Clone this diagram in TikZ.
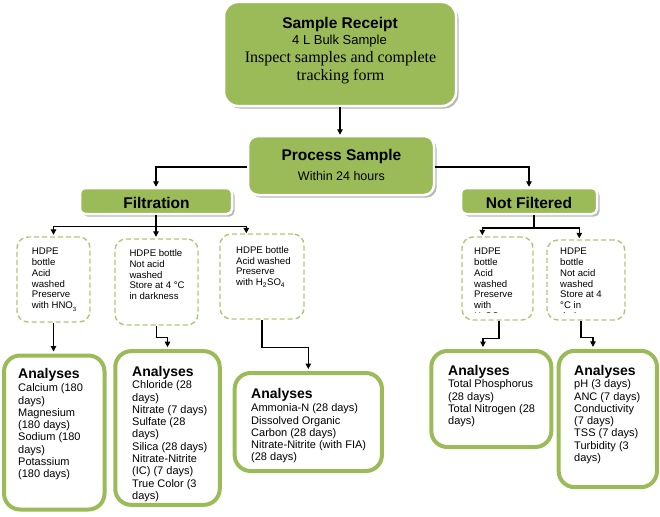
\documentclass[tikz,border=0pt]{standalone}
\usepackage{fontspec}
\setmainfont{Liberation Sans}
\newfontfamily\serifface{Liberation Serif}
\usetikzlibrary{arrows.meta,shadows}
\definecolor{ogreen}{HTML}{9BBB59}
\definecolor{dgreen}{HTML}{ADC777}
\begin{document}
\begin{tikzpicture}[x=1pt,y=-1pt,
  gbox/.style={draw=white, line width=2.5pt, fill=ogreen, inner sep=0pt,
    drop shadow={shadow xshift=2.5pt, shadow yshift=-2.5pt, fill=black!40, opacity=0.7}},
  hbox/.style={draw=dgreen, dash pattern=on 5pt off 3pt, line width=1.4pt, rounded corners=11pt, inner sep=0pt},
  abox/.style={draw=ogreen, line width=4pt, rounded corners=16pt, fill=white, inner sep=0pt},
  conn/.style={draw=black, line width=1.2pt},
  arr/.style={conn, -{Triangle[length=5.5pt,width=5.5pt]}},
  htext/.style={font=\fontsize{9.6}{10.8}\selectfont, align=left, inner sep=0pt, anchor=north west},
  atext/.style={font=\fontsize{11}{12.3}\selectfont, align=left, inner sep=0pt, anchor=north west},
  ahead/.style={font=\fontsize{14}{16}\selectfont\bfseries, inner sep=0pt, anchor=base west},
  btitle/.style={font=\fontsize{15.5}{18}\selectfont\bfseries, inner sep=0pt, anchor=base}
]
\useasboundingbox (0,0) rectangle (660,516);

% top boxes
\node[gbox, rounded corners=14pt, minimum width=232pt, minimum height=104pt] (sr) at (340,54) {};
\node[btitle] (srt1) at (340,28.5) {Sample Receipt};
\node[inner sep=0pt, anchor=base, font=\fontsize{13}{15}\selectfont] (srt2) at (339.5,44.5) {4 L Bulk Sample};
\node[inner sep=0pt, anchor=base, font=\serifface\fontsize{16}{18}\selectfont] (srt3) at (340.5,62.5) {Inspect samples and complete};
\node[inner sep=0pt, anchor=base, font=\serifface\fontsize{16}{18}\selectfont] (srt4) at (340.5,80.5) {tracking form};

\node[gbox, rounded corners=10pt, minimum width=186pt, minimum height=59pt] (ps) at (341,165.5) {};
\node[btitle] (pst1) at (341.4,160) {Process Sample};
\node[inner sep=0pt, anchor=base, font=\fontsize{12.5}{15}\selectfont] (pst2) at (341.4,180.5) {Within 24 hours};

\node[gbox, rounded corners=5pt, minimum width=152pt, minimum height=26pt] (filt) at (156,201) {};
\node[btitle] (filtt) at (156.5,208.5) {Filtration};
\node[gbox, rounded corners=5pt, minimum width=136pt, minimum height=26pt] (nf) at (529,201) {};
\node[btitle] (nft) at (529,208.5) {Not Filtered};

% HDPE boxes
\node[hbox, minimum width=73pt, minimum height=85pt] (h1) at (53.5,279.5) {};
\node[hbox, minimum width=83pt, minimum height=86pt] (h2) at (156.5,282) {};
\node[hbox, minimum width=84pt, minimum height=85pt] (h3) at (262,276.5) {};
\node[hbox, minimum width=71pt, minimum height=83pt] (h4) at (497.5,278.5) {};
\node[hbox, minimum width=78pt, minimum height=80pt] (h5) at (586,280) {};

\node[htext] (h1t) at (31.7,247.8) {HDPE\\bottle\\Acid\\washed\\Preserve\\with HNO\raisebox{-3pt}{\fontsize{6}{6}\selectfont 3}};
\node[htext] (h2t) at (129.3,249.4) {HDPE bottle\\Not acid\\washed\\Store at 4 °C\\in darkness};
\node[htext] (h3t) at (236,246.1) {HDPE bottle\\Acid washed\\Preserve\\with H\textsubscript{2}SO\textsubscript{4}};
\begin{scope}
  \clip (462,237) rectangle (533,312.5);
  \node[htext] (h4t) at (474,247.8) {HDPE\\bottle\\Acid\\washed\\Preserve\\with\\H\textsubscript{2}SO\textsubscript{4}};
\end{scope}
\begin{scope}
  \clip (547,240) rectangle (625,312.5);
  \node[htext] (h5t) at (560,247.8) {HDPE\\bottle\\Not acid\\washed\\Store at 4\\°C in\\darkness};
\end{scope}

% Analyses boxes
\node[abox, minimum width=100.5pt, minimum height=154pt] (a1) at (54.25,432.5) {};
\node[abox, minimum width=104.5pt, minimum height=153.7pt] (a2) at (167.5,428) {};
\node[abox, minimum width=147.3pt, minimum height=98pt] (a3) at (308.3,422) {};
\node[abox, minimum width=120pt, minimum height=96pt] (a4) at (491.3,399) {};
\node[abox, minimum width=98.3pt, minimum height=136.3pt] (a5) at (607.8,419) {};

\node[ahead] (a1h) at (18,378.5) {Analyses};
\node[atext] (a1t) at (18,383.6) {Calcium (180\\days)\\Magnesium\\(180 days)\\Sodium (180\\days)\\Potassium\\(180 days)};
\node[ahead] (a2h) at (132,376.5) {Analyses};
\node[atext] (a2t) at (132,380.6) {Chloride (28\\days)\\Nitrate (7 days)\\Sulfate (28\\days)\\Silica (28 days)\\Nitrate-Nitrite\\(IC) (7 days)\\True Color (3\\days)};
\node[ahead] (a3h) at (251,398.5) {Analyses};
\node[atext] (a3t) at (251,403.6) {Ammonia-N (28 days)\\Dissolved Organic\\Carbon (28 days)\\Nitrate-Nitrite (with FIA)\\(28 days)};
\node[ahead] (a4h) at (448,375.5) {Analyses};
\node[atext] (a4t) at (448,379.6) {Total Phosphorus\\(28 days)\\Total Nitrogen (28\\days)};
\node[ahead] (a5h) at (574,375.5) {Analyses};
\node[atext] (a5t) at (574,379.6) {pH (3 days)\\ANC (7 days)\\Conductivity\\(7 days)\\TSS (7 days)\\Turbidity (3\\days)};

% connectors
\draw[arr] (sr.south) -- (sr.south |- ps.north);
\draw[arr] ([yshift=-1.5pt]ps.west) -| (filt.north);
\draw[arr] ([yshift=-1.5pt]ps.east) -| (nf.north);

\draw[conn] (filt.south) -- ++(0,11) coordinate (fb);
\draw[arr, shorten >=1.5pt] (fb) -| (h1.north);
\draw[arr, shorten >=1.5pt] (fb) -- (fb |- h2.north);
\draw[arr] (fb) -| ([xshift=27pt]h3.north west);

\draw[conn] ([xshift=5pt]nf.south) -- ++(0,12.7) coordinate (nb);
\draw[arr, shorten >=1pt] (nb) -| ([xshift=21pt]h4.north west);
\draw[arr, shorten >=1pt] (nb) -| ([xshift=33pt]h5.north west);

\draw[arr, shorten >=2pt] (h1.south) -- (h1.south |- a1.north);
\draw[arr, shorten >=2pt] (h2.south) -- ++(0,12) -| (a2.north);
\draw[arr, shorten >=2pt] (h3.south) -- ++(0,28) -| (a3.north);
\draw[arr, shorten >=2pt] ([xshift=1.5pt]h4.south) -- ++(0,18) -| ([xshift=-8.3pt]a4.north);
\draw[arr, shorten >=2pt] ([xshift=-5pt]h5.south) -- ++(0,17) -| ([xshift=-14.8pt]a5.north);
\end{tikzpicture}
\end{document}
